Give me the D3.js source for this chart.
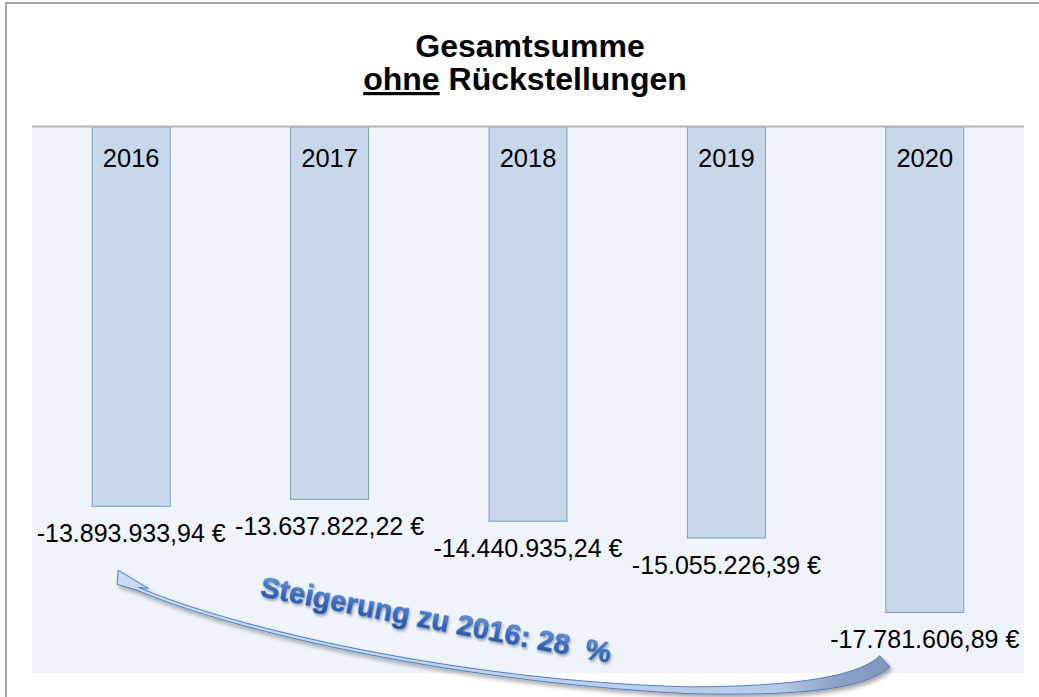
<!DOCTYPE html>
<html>
<head>
<meta charset="utf-8">
<script src="https://cdn.jsdelivr.net/npm/d3@7"></script>
<style>
  html, body { margin: 0; padding: 0; background: #ffffff; }
  svg { display: block; }
</style>
</head>
<body>
<svg id="chart" width="1039" height="697"></svg>
<script>
// ---- data ----
const years = ["2016", "2017", "2018", "2019", "2020"];
const values = [-13893933.94, -13637822.22, -14440935.24, -15055226.39, -17781606.89];
const titleLine1 = "Gesamtsumme";
const titleLine2a = "ohne";
const titleLine2b = " Rückstellungen";
const yDomain = [-20000000, 0];

const svg = d3.select("#chart");
const W = 1039, H = 697;
const plot = { left: 32, right: 1024, top: 127, bottom: 673 };

const de = d3.formatLocale({ decimal: ",", thousands: ".", grouping: [3], currency: ["", " €"], minus: "-" });
const fmt = de.format("$,.2f");

const x = d3.scaleBand().domain(years).range([plot.left, plot.right])
  .paddingInner(0.607).paddingOuter(0.3035);
const y = d3.scaleLinear().domain(yDomain).range([plot.bottom, plot.top]);

const defs = svg.append("defs");
const sh = defs.append("filter").attr("id", "shadow").attr("x", "-10%").attr("y", "-30%").attr("width", "130%").attr("height", "180%");
sh.append("feDropShadow").attr("dx", 2).attr("dy", 3).attr("stdDeviation", 2).attr("flood-color", "#000").attr("flood-opacity", 0.35);
const tsh = defs.append("filter").attr("id", "tshadow").attr("x", "-10%").attr("y", "-30%").attr("width", "130%").attr("height", "180%");
tsh.append("feDropShadow").attr("dx", 1.5).attr("dy", 2).attr("stdDeviation", 1.2).attr("flood-color", "#000").attr("flood-opacity", 0.3);

const tg = defs.append("linearGradient").attr("id", "textGrad").attr("x1", 0).attr("y1", 0).attr("x2", 0).attr("y2", 1);
tg.append("stop").attr("offset", "0%").attr("stop-color", "#7aa8ea");
tg.append("stop").attr("offset", "55%").attr("stop-color", "#356bc2");
tg.append("stop").attr("offset", "100%").attr("stop-color", "#214f9c");

const ag = defs.append("linearGradient").attr("id", "arrowGrad").attr("gradientUnits", "userSpaceOnUse")
  .attr("x1", 110).attr("y1", 0).attr("x2", 895).attr("y2", 0);
ag.append("stop").attr("offset", "0%").attr("stop-color", "#c9dbf3");
ag.append("stop").attr("offset", "85%").attr("stop-color", "#b7cbe8");
ag.append("stop").attr("offset", "92%").attr("stop-color", "#8ea4c8");
ag.append("stop").attr("offset", "100%").attr("stop-color", "#7d94bb");

// outer frame
svg.append("rect").attr("x", 6).attr("y", 3).attr("width", W + 20).attr("height", H + 20)
  .attr("fill", "#ffffff").attr("stroke", "#a6a6a6").attr("stroke-width", 2);

// plot background
svg.append("rect").attr("x", plot.left).attr("y", plot.top).attr("width", plot.right - plot.left)
  .attr("height", plot.bottom - plot.top).attr("fill", "#eff3fa");

// bars
svg.selectAll("rect.bar").data(years).join("rect").attr("class", "bar")
  .attr("x", d => x(d))
  .attr("y", y(0))
  .attr("width", x.bandwidth())
  .attr("height", (d, i) => y(values[i]) - y(0))
  .attr("fill", "#c8d8ea").attr("stroke", "#7d9cc6").attr("stroke-width", 1);

// zero line at the top
svg.append("line").attr("x1", plot.left).attr("x2", plot.right).attr("y1", y(0) - 0.5).attr("y2", y(0) - 0.5)
  .attr("stroke", "#b5b5b5").attr("stroke-width", 2);

// year labels (category axis)
svg.selectAll("text.year").data(years).join("text").attr("class", "year")
  .attr("x", d => x(d) + x.bandwidth() / 2)
  .attr("y", y(0) + 40)
  .attr("text-anchor", "middle")
  .attr("font-family", "Liberation Sans, Arial, sans-serif")
  .attr("font-size", 25.5).attr("fill", "#000")
  .text(d => d);

// value labels
svg.selectAll("text.val").data(years).join("text").attr("class", "val")
  .attr("x", d => x(d) + x.bandwidth() / 2)
  .attr("y", (d, i) => y(values[i]) + 36)
  .attr("text-anchor", "middle")
  .attr("font-family", "Liberation Sans, Arial, sans-serif")
  .attr("font-size", 25).attr("fill", "#000")
  .text((d, i) => fmt(values[i]));

// title
const title = svg.append("g").attr("font-family", "Liberation Sans, Arial, sans-serif")
  .attr("font-weight", "bold").attr("font-size", 32).attr("fill", "#000").attr("text-anchor", "middle");
title.append("text").attr("x", 530).attr("y", 57).text(titleLine1);
const t2 = title.append("text").attr("x", 525).attr("y", 90);
t2.append("tspan").attr("text-decoration", "underline").text(titleLine2a);
t2.append("tspan").text(titleLine2b);

// curved arrow annotation (from 2020 back to 2016)
const c0 = x(years[0]) + x.bandwidth() / 2;
const c4 = x(years[4]) + x.bandwidth() / 2;
const yb = y(values[0]);
const guide = svg.append("path").attr("fill", "none").attr("stroke", "none")
  .attr("d", `M${c0 + 1},${yb + 80} C${c0 + 89},${yb + 120} ${c0 + 319},${yb + 175} ${c0 + 559},${yb + 184}` +
             ` C${c0 + 669},${yb + 185} ${c4 - 62},${yb + 176} ${c4 - 40},${yb + 155}`);
const node = guide.node();
const L = node.getTotalLength();
const N = 120;
const up = [], dn = [];
for (let i = 0; i <= N; i++) {
  const t = i / N;
  const p = node.getPointAtLength(t * L);
  const p2 = node.getPointAtLength(Math.min(L, t * L + 0.5));
  const p1 = node.getPointAtLength(Math.max(0, t * L - 0.5));
  let dx = p2.x - p1.x, dy = p2.y - p1.y;
  const len = Math.hypot(dx, dy) || 1; dx /= len; dy /= len;
  const nx = -dy, ny = dx;
  const w = 1.6 + 6 * Math.pow(t, 4);
  up.push([p.x - nx * w, p.y - ny * w]);
  dn.push([p.x + nx * w, p.y + ny * w]);
}
const tip = [c0 - 13, yb + 64];
const barbR = [c0 + 17, yb + 82];
const barbL = [c0 - 14, yb + 78];
const pts = [tip, barbR].concat(up.slice(1)).concat(dn.reverse().slice(0, dn.length - 1)).concat([barbL]);
svg.append("path")
  .attr("d", d3.line()(pts) + "Z")
  .attr("fill", "url(#arrowGrad)").attr("stroke", "#4f7fc0").attr("stroke-width", 1)
  .attr("stroke-linejoin", "round")
  .attr("filter", "url(#shadow)");

// WordArt-like annotation text
const pct = Math.round((values[4] / values[0] - 1) * 100);
svg.append("text")
  .attr("transform", `translate(${c0 + 128},${yb + 90}) rotate(10.8)`)
  .attr("font-family", "Liberation Sans, Arial, sans-serif")
  .attr("font-weight", "bold").attr("font-size", 29)
  .attr("fill", "url(#textGrad)").attr("stroke", "#2a5aa8").attr("stroke-width", 0.6)
  .attr("filter", "url(#tshadow)")
  .style("white-space", "pre")
  .text(`Steigerung zu ${years[0]}: ${pct}  %`);
</script>
</body>
</html>
